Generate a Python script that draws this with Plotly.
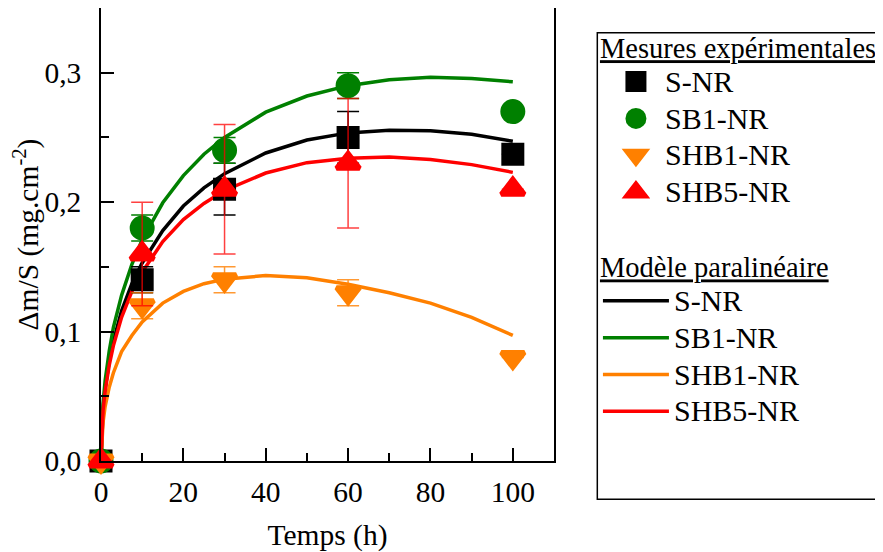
import plotly.graph_objects as go

# Experimental measurements
t_exp = [0, 10, 30, 60, 100]
s_nr = [0, 0.14, 0.21, 0.25, 0.237]
s_nr_err = [0, 0.01, 0.02, 0.02, 0]
sb1_nr = [0, 0.18, 0.24, 0.29, 0.27]
sb1_nr_err = [0, 0.01, 0.01, 0.01, 0]
shb1_nr = [0, 0.12, 0.14, 0.13, 0.08]
shb1_nr_err = [0, 0.01, 0.01, 0.01, 0]
shb5_nr = [0, 0.16, 0.21, 0.23, 0.21]
shb5_nr_err = [0, 0.04, 0.05, 0.05, 0]

# Paralinear model curves
t_mod = [0, 0.5, 1, 2, 3, 5, 7.5, 10, 15, 20, 25, 30, 40, 50, 60, 70, 80, 90, 100]
m_s_nr = [0, 0.040, 0.056, 0.077, 0.0925, 0.116, 0.137, 0.153, 0.178, 0.197, 0.211, 0.222,
          0.238, 0.248, 0.2535, 0.2555, 0.2552, 0.2525, 0.247]
m_sb1_nr = [0, 0.0445, 0.062, 0.085, 0.103, 0.128, 0.152, 0.171, 0.1995, 0.2205, 0.237, 0.250,
            0.2695, 0.282, 0.290, 0.2945, 0.2965, 0.2955, 0.293]
m_shb1_nr = [0, 0.030, 0.042, 0.057, 0.068, 0.0845, 0.097, 0.1075, 0.122, 0.131, 0.137, 0.1405,
             0.1433, 0.1415, 0.1365, 0.130, 0.122, 0.111, 0.097]
m_shb5_nr = [0, 0.039, 0.054, 0.074, 0.089, 0.111, 0.131, 0.146, 0.1695, 0.1865, 0.199, 0.209,
             0.2225, 0.2305, 0.234, 0.2348, 0.233, 0.229, 0.223]

names = ["S-NR", "SB1-NR", "SHB1-NR", "SHB5-NR"]
colors = ["#000000", "#008000", "#ff8000", "#ff0000"]
err_colors = ["#000000", "#008000", "rgba(255,128,0,0.8)", "rgba(255,0,0,0.75)"]
symbols = ["square", "circle", "triangle-down", "triangle-up"]
msizes = [18, 20, 20, 20]
exp_vals = [s_nr, sb1_nr, shb1_nr, shb5_nr]
exp_errs = [s_nr_err, sb1_nr_err, shb1_nr_err, shb5_nr_err]
mod_vals = [m_s_nr, m_sb1_nr, m_shb1_nr, m_shb5_nr]

FONT = "Liberation Serif"
FS = 29.5
LEG_TITLE_FS = 28.5


def leg_label(s):
    return '<span style="font-size:30px">' + s + '</span>'


fig = go.Figure()

for name, col, vals in zip(names, colors, mod_vals):
    fig.add_trace(go.Scatter(
        x=t_mod, y=vals, mode="lines", name=leg_label(name),
        line=dict(color=col, width=3.5), legend="legend2",
        cliponaxis=False,
    ))

for name, col, ecol, sym, ms, vals, errs in zip(names, colors, err_colors, symbols, msizes, exp_vals, exp_errs):
    fig.add_trace(go.Scatter(
        x=t_exp, y=vals, mode="markers", name=leg_label(name),
        marker=dict(symbol=sym, size=ms, color=col, line=dict(color=col, width=5)),
        error_y=dict(type="data", array=errs, visible=True, color=ecol, thickness=1.5, width=11),
        legend="legend", cliponaxis=False,
    ))

axis_common = dict(
    showline=True, linecolor="black", linewidth=1.5, mirror=True,
    ticks="inside", ticklen=13, tickwidth=1.5, tickcolor="black",
    showgrid=False, zeroline=False,
    tickfont=dict(family=FONT, size=FS, color="black"),
)

fig.update_xaxes(
    range=[0, 110], dtick=20, tick0=0,
    minor=dict(ticks="inside", ticklen=8, tickwidth=1.5, tickcolor="black", dtick=10),
    title=dict(text="Temps (h)", font=dict(family=FONT, size=FS), standoff=24),
    ticklabelstandoff=4,
    **axis_common,
)
fig.update_yaxes(
    range=[0, 0.35], dtick=0.1, tick0=0, tickformat=".1f",
    minor=dict(ticks="inside", ticklen=8, tickwidth=1.5, tickcolor="black", dtick=0.05),
    title=dict(text="Δm/S (mg.cm<sup>-2</sup>)", font=dict(family=FONT, size=FS), standoff=5),
    ticklabelstandoff=12,
    **axis_common,
)

fig.update_layout(
    width=875, height=544,
    margin=dict(l=93, r=329, t=0, b=91, autoexpand=False),
    plot_bgcolor="white", paper_bgcolor="white",
    font=dict(family=FONT, size=FS, color="black"),
    separators=", ",
    showlegend=True,
    legend=dict(
        x=1.097, y=0.971, xanchor="left", yanchor="top",
        title=dict(text="<u>Mesures expérimentales</u>", font=dict(family=FONT, size=LEG_TITLE_FS)),
        font=dict(family=FONT, size=26), bgcolor="rgba(0,0,0,0)", borderwidth=0,
        itemwidth=48, indentation=9, tracegroupgap=0,
    ),
    legend2=dict(
        x=1.097, y=0.487, xanchor="left", yanchor="top",
        title=dict(text="<u>Modèle paralinéaire</u>", font=dict(family=FONT, size=LEG_TITLE_FS)),
        font=dict(family=FONT, size=26), bgcolor="rgba(0,0,0,0)", borderwidth=0,
        itemwidth=66, tracegroupgap=0,
    ),
    shapes=[dict(
        type="rect", xref="paper", yref="paper",
        x0=1.0956, x1=1.75, y0=-0.0844, y1=0.9456,
        line=dict(color="black", width=1.5), fillcolor="rgba(0,0,0,0)", layer="above",
    )],
)

fig.write_html("out.html")
